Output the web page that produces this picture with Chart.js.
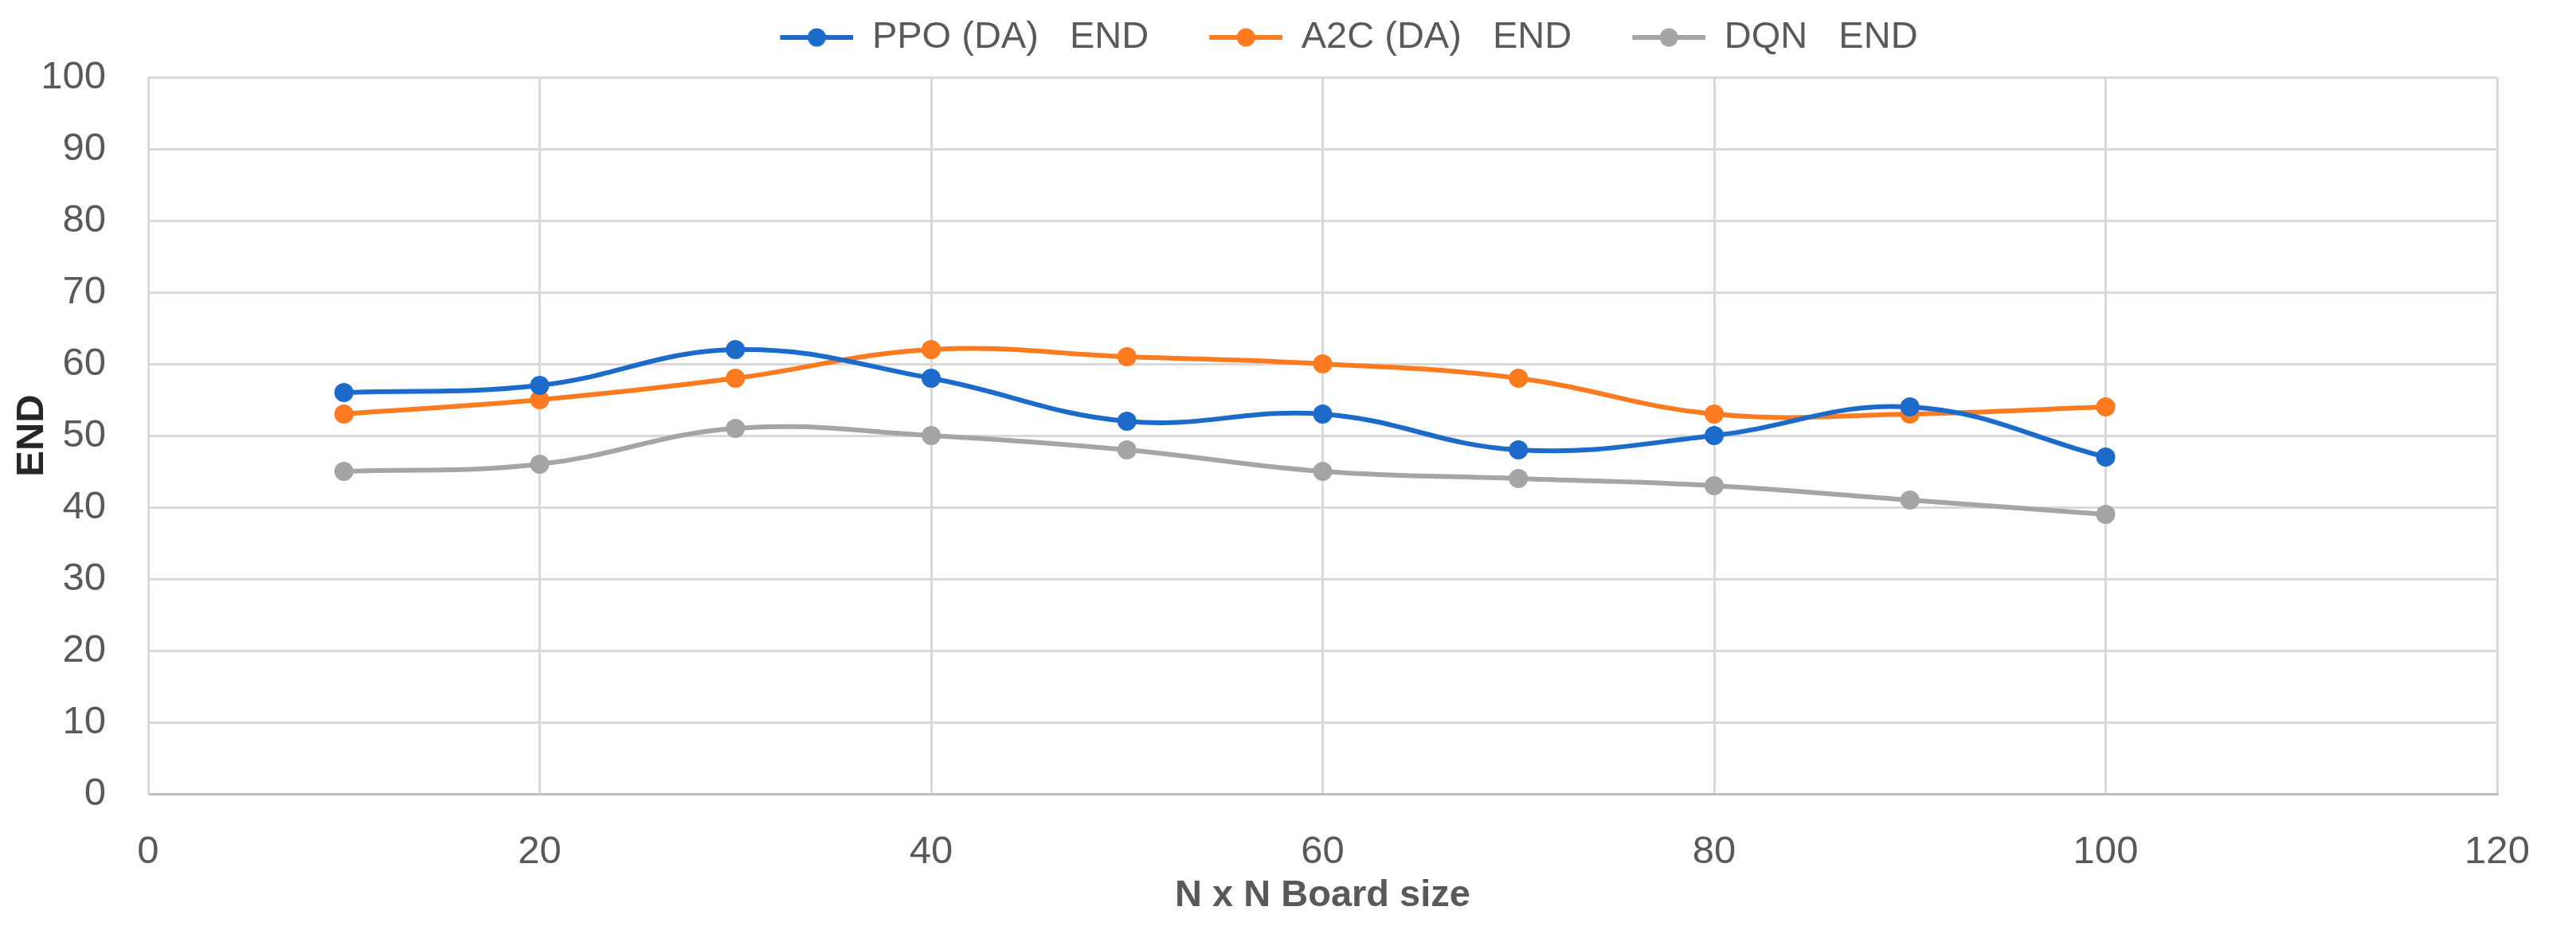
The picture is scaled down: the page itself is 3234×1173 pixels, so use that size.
<!DOCTYPE html>
<html>
<head>
<meta charset="utf-8">
<script src="https://cdn.jsdelivr.net/npm/chart.js@4.4.1/dist/chart.umd.min.js"></script>
<style>
  html, body { margin: 0; padding: 0; background: #ffffff; }
  #wrap { width: 3234px; height: 1173px; }
</style>
</head>
<body>
<div id="wrap"><canvas id="c" width="3234" height="1173"></canvas></div>
<script>
// ---- data ----
const boardSizes = [10, 20, 30, 40, 50, 60, 70, 80, 90, 100];
const ppoEnd = [56, 57, 62, 58, 52, 53, 48, 50, 54, 47];
const a2cEnd = [53, 55, 58, 62, 61, 60, 58, 53, 53, 54];
const dqnEnd = [45, 46, 51, 50, 48, 45, 44, 43, 41, 39];
const seriesNames = ['PPO (DA)   END', 'A2C (DA)   END', 'DQN   END'];
const xTitle = 'N x N Board size';
const yTitle = 'END';

const colors = ['#1C6BCB', '#FC7B20', '#A5A5A5'];

function legendIcon(color) {
  const cv = document.createElement('canvas');
  cv.width = 158; cv.height = 26;
  const g = cv.getContext('2d');
  g.strokeStyle = color; g.lineWidth = 6; g.lineCap = 'butt';
  g.beginPath(); g.moveTo(66, 13); g.lineTo(158, 13); g.stroke();
  g.fillStyle = color;
  g.beginPath(); g.arc(112, 13, 11.5, 0, Math.PI * 2); g.fill();
  return cv;
}

function toPoints(vals) { return boardSizes.map((x, i) => ({ x: x, y: vals[i] })); }

const allSeries = [ppoEnd, a2cEnd, dqnEnd];
const datasets = allSeries.map((vals, i) => ({
  label: seriesNames[i],
  data: toPoints(vals),
  borderColor: colors[i],
  backgroundColor: colors[i],
  pointBackgroundColor: colors[i],
  pointBorderColor: colors[i],
  borderWidth: 6,
  pointRadius: 12,
  pointBorderWidth: 0,
  tension: 0.4,
  fill: false
}));

const spacerPlugin = {
  id: 'spacer',
  beforeInit(chart) {
    const box = {
      position: 'top', weight: 500, fullSize: false, options: {},
      left: 0, top: 0, right: 0, bottom: 0, width: 0, height: 0,
      isHorizontal() { return true; },
      update(maxWidth) { this.width = maxWidth; this.height = 16.5; },
      draw() {}
    };
    Chart.layouts.addBox(chart, box);
  }
};

const tickFont = { family: "'Liberation Sans', Arial, sans-serif", size: 49, weight: 'normal' };

new Chart(document.getElementById('c'), {
  type: 'line',
  data: { datasets: datasets },
  plugins: [spacerPlugin],
  options: {
    responsive: false,
    animation: false,
    devicePixelRatio: 1,
    layout: { padding: { left: 0, right: 99, top: 13.5, bottom: 0 } },
    plugins: {
      tooltip: { enabled: false },
      legend: {
        display: true,
        position: 'top',
        fullSize: false,
        labels: {
          usePointStyle: true,
          pointStyleWidth: 158,
          boxHeight: 26,
          padding: 10,
          color: '#595959',
          font: { family: "'Liberation Sans', Arial, sans-serif", size: 47 },
          generateLabels(chart) {
            return chart.data.datasets.map((ds, i) => ({
              text: ds.label,
              fillStyle: ds.borderColor,
              strokeStyle: ds.borderColor,
              lineWidth: 0,
              pointStyle: legendIcon(ds.borderColor),
              fontColor: '#595959',
              hidden: false,
              datasetIndex: i
            }));
          }
        }
      }
    },
    scales: {
      x: {
        type: 'linear',
        min: 0, max: 120,
        afterFit(scale) { scale.height = 176; },
        ticks: { stepSize: 20, padding: 44, color: '#595959', font: tickFont, maxRotation: 0 },
        grid: { color: '#D9D9D9', lineWidth: 3, drawTicks: false },
        border: { color: '#BFBFBF', width: 3 },
        title: {
          display: true, text: xTitle, color: '#595959',
          font: { family: "'Liberation Sans', Arial, sans-serif", size: 47, weight: 'bold' },
          padding: { top: 0, bottom: 20 }
        }
      },
      y: {
        type: 'linear',
        min: 0, max: 100,
        afterFit(scale) { scale.width = 186; },
        ticks: { stepSize: 10, padding: 53, color: '#595959', font: tickFont },
        grid: { color: '#D9D9D9', lineWidth: 3, drawTicks: false },
        border: { color: '#D9D9D9', width: 3 },
        title: {
          display: true, text: yTitle, color: '#262626',
          font: { family: "'Liberation Sans Narrow', 'Liberation Sans', Arial, sans-serif", size: 49, weight: 'bold' },
          padding: { top: 11, bottom: 0 }
        }
      }
    }
  }
});
</script>
</body>
</html>
